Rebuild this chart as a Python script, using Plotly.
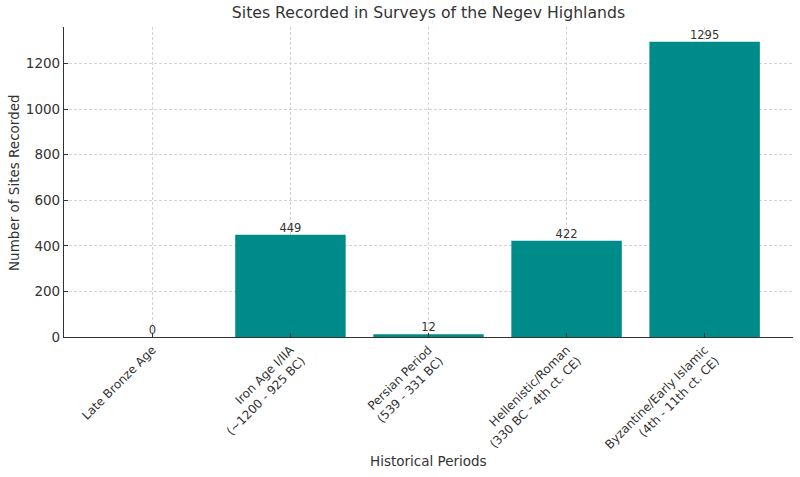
import plotly.graph_objects as go

categories = [
    "Late Bronze Age",
    "Iron Age I/IIA<br>(~1200 - 925 BC)",
    "Persian Period<br>(539 - 331 BC)",
    "Hellenistic/Roman<br>(330 BC - 4th ct. CE)",
    "Byzantine/Early Islamic<br>(4th - 11th ct. CE)",
]
sites = [0, 449, 12, 422, 1295]
y_ticks = [0, 200, 400, 600, 800, 1000, 1200]

font_family = "DejaVu Sans, sans-serif"
text_color = "#333333"
grid_color = "#d3d3d3"

fig = go.Figure()
fig.add_trace(go.Bar(
    x=list(range(len(categories))), y=sites, width=0.8,
    marker=dict(color="#008B8B", line=dict(width=0)),
    hoverinfo="skip", showlegend=False,
))
fig.add_trace(go.Scatter(
    x=list(range(len(categories))), y=sites, mode="text",
    text=[str(v) for v in sites], textposition="top center",
    textfont=dict(size=11.5, color=text_color, family=font_family),
    showlegend=False, hoverinfo="skip", cliponaxis=False,
))

fig.update_layout(
    width=800, height=477,
    margin=dict(l=64, r=7, t=27, b=140),
    paper_bgcolor="white", plot_bgcolor="white",
    font=dict(family=font_family, color=text_color),
    title=dict(text="Sites Recorded in Surveys of the Negev Highlands",
               x=0.5, xref="paper", xanchor="center", y=0.985, yanchor="top",
               font=dict(size=15.7, color=text_color)),
    xaxis=dict(
        range=[-0.64, 4.64], tickmode="array",
        tickvals=list(range(len(categories))), ticktext=categories,
        tickangle=-45, tickfont=dict(size=12, color=text_color),
        showline=True, linecolor="#333333", linewidth=1.2,
        ticks="inside", ticklen=4, tickcolor="#333333",
        showgrid=True, gridcolor=grid_color, griddash="3px,2px", gridwidth=0.8,
        zeroline=False, layer="above traces", automargin=False,
    ),
    yaxis=dict(
        range=[0, 1359.75], tickmode="array", tickvals=y_ticks,
        tickfont=dict(size=13.5, color=text_color),
        showline=True, linecolor="#333333", linewidth=1.2,
        ticks="inside", ticklen=4, tickcolor="#333333",
        showgrid=True, gridcolor=grid_color, griddash="3px,2px", gridwidth=0.8,
        zeroline=False, layer="above traces", automargin=False,
    ),
    annotations=[
        dict(text="Historical Periods", xref="paper", yref="paper",
             x=0.5, y=-0.4, xanchor="center", yanchor="middle", showarrow=False,
             font=dict(size=13.5, color=text_color)),
        dict(text="Number of Sites Recorded", xref="paper", yref="paper",
             x=-0.0686, y=0.5, xanchor="center", yanchor="middle", showarrow=False,
             textangle=-90, font=dict(size=13.5, color=text_color)),
    ],
)

fig.write_html("out.html")
